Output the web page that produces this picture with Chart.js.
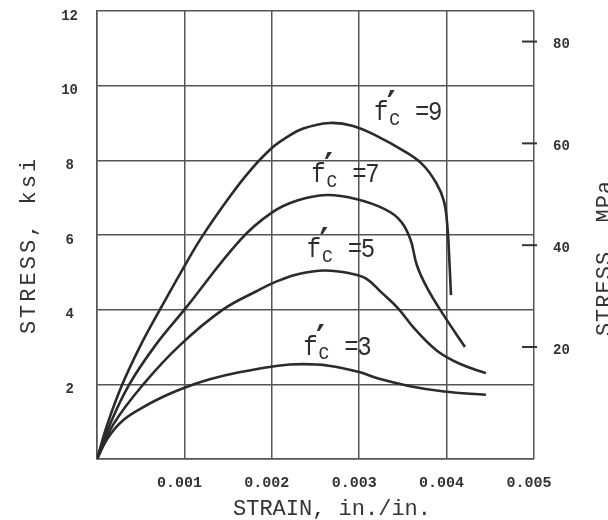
<!DOCTYPE html>
<html>
<head>
<meta charset="utf-8">
<script src="https://cdn.jsdelivr.net/npm/chart.js@4.4.0/dist/chart.umd.min.js"></script>
<style>
  html, body { margin: 0; padding: 0; background: #fff; }
  #wrap { width: 608px; height: 520px; }
</style>
</head>
<body>
<div id="wrap"><canvas id="stressStrain" width="608" height="520"></canvas></div>
<script>
// stress-strain curves, strain in in./in., stress in ksi
const strain9 = [0, 0.00012, 0.00029, 0.0005, 0.00072, 0.00096, 0.0012, 0.00151, 0.00175, 0.002, 0.00216, 0.00236, 0.00266, 0.00293, 0.00322, 0.00349, 0.00372, 0.00388, 0.00397, 0.00401, 0.00403, 0.00405];
const stress9 = [0, 0.94, 2, 3.05, 4, 5.0, 5.95, 7.0, 7.72, 8.33, 8.6, 8.85, 9.0, 8.92, 8.63, 8.28, 7.9, 7.4, 6.9, 6.2, 5.4, 4.39];

const strain7 = [0, 0.00015, 0.00037, 0.00067, 0.001, 0.00164, 0.002, 0.0023, 0.00263, 0.0029, 0.00321, 0.00344, 0.00358, 0.00366, 0.00378, 0.00397, 0.00421];
const stress7 = [0, 0.94, 2, 3.05, 4, 5.87, 6.6, 6.93, 7.07, 7.0, 6.78, 6.46, 5.92, 5.19, 4.57, 3.84, 3.0];

const strain5 = [0, 0.00019, 0.00053, 0.00095, 0.00144, 0.00183, 0.00207, 0.0023, 0.0026, 0.0029, 0.00308, 0.00326, 0.00344, 0.00363, 0.00389, 0.00415, 0.00445];
const stress5 = [0, 0.94, 2, 3.05, 4, 4.5, 4.77, 4.95, 5.05, 4.97, 4.83, 4.45, 4.05, 3.5, 2.9, 2.55, 2.3];

const strain3 = [0, 0.00012, 0.00028, 0.0005, 0.00075, 0.001, 0.0013, 0.0016, 0.00207, 0.00235, 0.00265, 0.003, 0.00321, 0.00358, 0.00397, 0.00445];
const stress3 = [0, 0.55, 1.0, 1.35, 1.66, 1.91, 2.14, 2.31, 2.5, 2.54, 2.5, 2.33, 2.16, 1.95, 1.81, 1.72];

// axis ticks
const strainTicks = [0, 0.001, 0.002, 0.003, 0.004, 0.005];
const strainTickLabels = ['', '0.001', '0.002', '0.003', '0.004', '0.005'];
const ksiTicks = [0, 2, 4, 6, 8, 10, 12];
const ksiTickLabels = ['', '2', '4', '6', '8', '10', '12'];
const mpaTicks = [20, 40, 60, 80];
const mpaTickLabels = ['20', '40', '60', '80'];

// f'c labels next to the curves (left edge of the f, baseline)
const labelValues = ['9', '7', '5', '3'];
const labelStrain = [0.00317, 0.00245, 0.0024, 0.00236];
const labelStress = [9.08, 7.42, 5.41, 2.79];

const mono = "'Liberation Mono', 'Courier New', monospace";
const ink = '#2b2b2b';
const gridInk = '#555';

const toPoints = (xs, ys) => xs.map((x, i) => ({ x: x, y: ys[i] }));

const curves = [
  { name: "f'c = 9", strain: strain9, stress: stress9 },
  { name: "f'c = 7", strain: strain7, stress: stress7 },
  { name: "f'c = 5", strain: strain5, stress: stress5 },
  { name: "f'c = 3", strain: strain3, stress: stress3 }
];

// titles, curve labels and the short inside ticks of the MPa axis
const decorations = {
  id: 'decorations',
  afterDraw(chart) {
    const ctx = chart.ctx;
    const area = chart.chartArea;
    const xs = chart.scales.x;
    const ys = chart.scales.y;
    const ms = chart.scales.y2;
    ctx.save();
    ctx.fillStyle = '#333';
    ctx.strokeStyle = '#333';

    // MPa tick marks
    ctx.lineWidth = 2;
    mpaTicks.forEach(v => {
      const py = ms.getPixelForValue(v);
      ctx.beginPath();
      ctx.moveTo(area.right - 12, py);
      ctx.lineTo(area.right + 3, py);
      ctx.stroke();
    });

    // axis titles
    ctx.font = '22px ' + mono;
    ctx.textAlign = 'center';
    ctx.textBaseline = 'alphabetic';
    ctx.fillText('STRAIN, in./in.', 332, 515);

    ctx.save();
    ctx.translate(35, 245);
    ctx.rotate(-Math.PI / 2);
    ctx.letterSpacing = '3px';
    ctx.fillText('STRESS, ksi', 0, 0);
    ctx.restore();

    ctx.save();
    ctx.translate(611, 258);
    ctx.rotate(-Math.PI / 2);
    ctx.letterSpacing = '1px';
    ctx.fillText('STRESS, MPa', 0, 0);
    ctx.restore();

    // f'c = n labels
    ctx.textAlign = 'left';
    ctx.fillStyle = '#2e2e2e';
    labelValues.forEach((val, i) => {
      const px = xs.getPixelForValue(labelStrain[i]);
      const py = ys.getPixelForValue(labelStress[i]);
      ctx.save();
      ctx.translate(px, py);
      ctx.scale(1, 1.15);
      ctx.font = '24px ' + mono;
      ctx.fillText('f', 0, 0);
      ctx.fillText('=', 41, 0);
      ctx.fillText(val, 54, 0);
      ctx.font = '19px ' + mono;
      ctx.fillText('c', 15, 4);
      ctx.font = 'bold 32px "DejaVu Sans"';
      ctx.fillText('\u2032', 13, -3);
      ctx.restore();
    });
    ctx.restore();
  }
};

// keep the plot box where the reference has it (tick padding would push it down)
const noPadY = s => { s.paddingTop = 0; s.paddingBottom = 0; };

const ctx = document.getElementById('stressStrain').getContext('2d');
new Chart(ctx, {
  type: 'line',
  data: {
    datasets: curves.map(c => ({
      label: c.name,
      data: toPoints(c.strain, c.stress),
      borderColor: ink,
      borderWidth: 2.6,
      pointRadius: 0,
      fill: false,
      tension: 0.4,
      yAxisID: 'y'
    }))
  },
  options: {
    responsive: false,
    animation: false,
    events: [],
    layout: { padding: { top: 11, left: 0, right: 0, bottom: 0 } },
    plugins: {
      legend: { display: false },
      tooltip: { enabled: false }
    },
    scales: {
      x: {
        type: 'linear',
        min: 0,
        max: 0.005,
        afterBuildTicks: s => { s.ticks = strainTicks.map(v => ({ value: v })); },
        afterFit: s => { s.height = 61; s.paddingLeft = 0; s.paddingRight = 0; },
        grid: { color: gridInk, lineWidth: 1.5, drawTicks: false },
        border: { color: gridInk, width: 1.5 },
        ticks: {
          padding: 15,
          labelOffset: -5,
          maxRotation: 0,
          color: '#333',
          font: { family: mono, size: 15, weight: 'bold' },
          callback: (v, i) => strainTickLabels[i]
        }
      },
      y: {
        type: 'linear',
        position: 'left',
        min: 0,
        max: 12,
        afterBuildTicks: s => { s.ticks = ksiTicks.map(v => ({ value: v })); },
        afterFit: s => { s.width = 97; noPadY(s); },
        grid: { color: gridInk, lineWidth: 1.5, drawTicks: false },
        border: { color: gridInk, width: 1.5 },
        ticks: {
          padding: 19,
          labelOffset: 5,
          crossAlign: 'center',
          color: '#333',
          font: { family: mono, size: 14, weight: 'bold' },
          callback: (v, i) => ksiTickLabels[i]
        }
      },
      y2: {
        type: 'linear',
        position: 'right',
        min: -2,
        max: 86,
        afterBuildTicks: s => { s.ticks = mpaTicks.map(v => ({ value: v })); },
        afterFit: s => { s.width = 74; noPadY(s); },
        grid: { display: false, drawTicks: false },
        border: { display: false },
        ticks: {
          padding: 19,
          labelOffset: 3,
          color: '#333',
          font: { family: mono, size: 14, weight: 'bold' },
          callback: (v, i) => mpaTickLabels[i]
        }
      }
    }
  },
  plugins: [decorations]
});
</script>
</body>
</html>
